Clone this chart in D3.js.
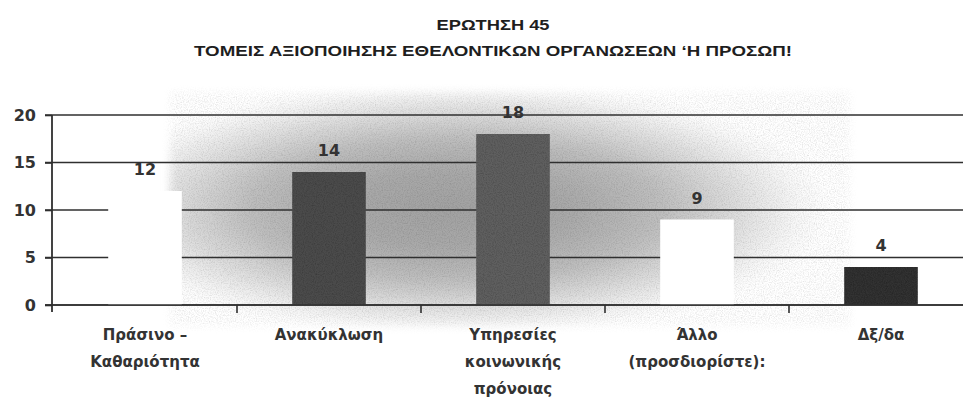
<!DOCTYPE html>
<html>
<head>
<meta charset="utf-8">
<script src="https://cdn.jsdelivr.net/npm/d3@7"></script>
<style>
  body { margin: 0; background: #ffffff; }
  svg { display: block; }
</style>
</head>
<body>
<svg id="chart" width="963" height="401"></svg>
<script>
// Survey question 45: fields in which volunteer organisations / persons are used
const titleLines = ["ΕΡΩΤΗΣΗ 45", "ΤΟΜΕΙΣ ΑΞΙΟΠΟΙΗΣΗΣ ΕΘΕΛΟΝΤΙΚΩΝ ΟΡΓΑΝΩΣΕΩΝ ‘Η ΠΡΟΣΩΠ!"];
const categories = ["Πράσινο – Καθαριότητα", "Ανακύκλωση", "Υπηρεσίες κοινωνικής πρόνοιας", "Άλλο (προσδιορίστε):", "Δξ/δα"];
const categoryLines = [
  ["Πράσινο –", "Καθαριότητα"],
  ["Ανακύκλωση"],
  ["Υπηρεσίες", "κοινωνικής", "πρόνοιας"],
  ["Άλλο", "(προσδιορίστε):"],
  ["Δξ/δα"]
];
const values = [12, 14, 18, 9, 4];
const yTicks = [0, 5, 10, 15, 20];

// styling
const barFills = ["#ffffff", "#4c4c4c", "#5e5e5e", "#ffffff", "#333333"];
const ink = "#2f2f2f";
const font = "'DejaVu Sans', 'Liberation Sans', sans-serif";

const W = 963, H = 401;
const svg = d3.select("#chart");
const defs = svg.append("defs");

// soft grey backdrop behind the plot
const grad = defs.append("radialGradient").attr("id", "haze")
  .attr("cx", 0.42).attr("cy", 0.5).attr("r", 0.55).attr("fx", 0.42).attr("fy", 0.5);
[[0, "#a2a2a2"], [0.3, "#a9a9a9"], [0.55, "#bebebe"], [0.78, "#e2e2e2"], [0.92, "#f8f8f8"], [1, "#ffffff"]]
  .forEach(([o, c]) => grad.append("stop").attr("offset", o).attr("stop-color", c));

const soft = defs.append("filter").attr("id", "soft")
  .attr("x", -0.1).attr("y", -0.1).attr("width", 1.2).attr("height", 1.2);
soft.append("feGaussianBlur").attr("stdDeviation", 4).attr("result", "b");
soft.append("feTurbulence").attr("type", "fractalNoise").attr("baseFrequency", 0.85)
  .attr("numOctaves", 2).attr("seed", 4).attr("result", "n");
soft.append("feColorMatrix").attr("in", "n").attr("type", "matrix")
  .attr("values", "0 0 0 0 0  0 0 0 0 0  0 0 0 0 0  0 0 0 -0.5 0.3").attr("result", "na");
soft.append("feComposite").attr("in", "na").attr("in2", "b").attr("operator", "in").attr("result", "nb");
const m1 = soft.append("feMerge");
m1.append("feMergeNode").attr("in", "b");
m1.append("feMergeNode").attr("in", "nb");

const grain = defs.append("filter").attr("id", "grain");
grain.append("feTurbulence").attr("type", "fractalNoise").attr("baseFrequency", 0.9)
  .attr("numOctaves", 2).attr("seed", 9).attr("result", "n");
grain.append("feColorMatrix").attr("in", "n").attr("type", "matrix")
  .attr("values", "0 0 0 0 0  0 0 0 0 0  0 0 0 0 0  0 0 0 -0.7 0.42").attr("result", "na");
grain.append("feComposite").attr("in", "na").attr("in2", "SourceGraphic").attr("operator", "in").attr("result", "nb");
const m2 = grain.append("feMerge");
m2.append("feMergeNode").attr("in", "SourceGraphic");
m2.append("feMergeNode").attr("in", "nb");

svg.append("rect")
  .attr("x", 170).attr("y", 92).attr("width", 680).attr("height", 234)
  .attr("fill", "url(#haze)").attr("filter", "url(#soft)");

// scales
const x = d3.scaleBand().domain(categories).range([53, 973]);
const y = d3.scaleLinear().domain([0, 20]).range([305, 115]);
const bw = x.bandwidth();

// horizontal grid lines through the full width
svg.append("g").selectAll("line").data(yTicks).join("line")
  .attr("x1", 45).attr("x2", W)
  .attr("y1", d => y(d)).attr("y2", d => y(d))
  .attr("stroke", ink).attr("stroke-width", 1.6);

// y axis
const yAxis = svg.append("g").attr("transform", "translate(52,0)")
  .call(d3.axisLeft(y).tickValues(yTicks).tickSize(7).tickPadding(9));
yAxis.select(".domain").remove();
yAxis.selectAll(".tick line").attr("stroke", ink).attr("stroke-width", 1.6);
yAxis.selectAll(".tick text")
  .attr("fill", "#333").attr("font-family", font).attr("font-weight", "bold").attr("font-size", 16);
svg.append("line").attr("x1", 52).attr("x2", 52).attr("y1", y(20)).attr("y2", y(0) + 7)
  .attr("stroke", ink).attr("stroke-width", 1.8);

// category tick marks between bands
svg.append("g").selectAll("line").data(categories.slice(1)).join("line")
  .attr("x1", d => x(d)).attr("x2", d => x(d))
  .attr("y1", y(0)).attr("y2", y(0) + 8)
  .attr("stroke", ink).attr("stroke-width", 1.6);

// bars
svg.append("g").selectAll("rect").data(values).join("rect")
  .attr("x", (d, i) => x(categories[i]) + bw * 0.3)
  .attr("width", bw * 0.4)
  .attr("y", d => y(d))
  .attr("height", d => y(0) - y(d))
  .attr("fill", (d, i) => barFills[i])
  .attr("filter", (d, i) => barFills[i] === "#ffffff" ? null : "url(#grain)");

// redraw the baseline over the bars
svg.append("line").attr("x1", 45).attr("x2", W).attr("y1", y(0)).attr("y2", y(0))
  .attr("stroke", ink).attr("stroke-width", 1.6);

// value labels
svg.append("g").selectAll("text").data(values).join("text")
  .attr("x", (d, i) => x(categories[i]) + bw / 2)
  .attr("y", d => y(d) - 16)
  .attr("text-anchor", "middle")
  .attr("fill", "#333").attr("font-family", font).attr("font-weight", "bold").attr("font-size", 16)
  .text(d => d);

// category labels
const cat = svg.append("g").selectAll("text").data(categoryLines).join("text")
  .attr("text-anchor", "middle")
  .attr("fill", "#333").attr("font-family", font).attr("font-weight", "bold").attr("font-size", 15);
cat.selectAll("tspan").data((d, i) => d.map(s => ({ s, i }))).join("tspan")
  .attr("x", d => x(categories[d.i]) + bw / 2)
  .attr("y", (d, j) => 340 + j * 27)
  .text(d => d.s);

// titles
svg.append("g").selectAll("text").data(titleLines).join("text")
  .attr("x", 493)
  .attr("y", (d, i) => 30 + i * 26)
  .attr("text-anchor", "middle")
  .attr("fill", "#1e1e1e").attr("font-family", "'Liberation Sans', Arial, sans-serif")
  .attr("font-weight", "bold").attr("font-size", 15)
  .attr("textLength", (d, i) => i === 0 ? 113 : 598)
  .attr("lengthAdjust", "spacingAndGlyphs")
  .text(d => d);
</script>
</body>
</html>
